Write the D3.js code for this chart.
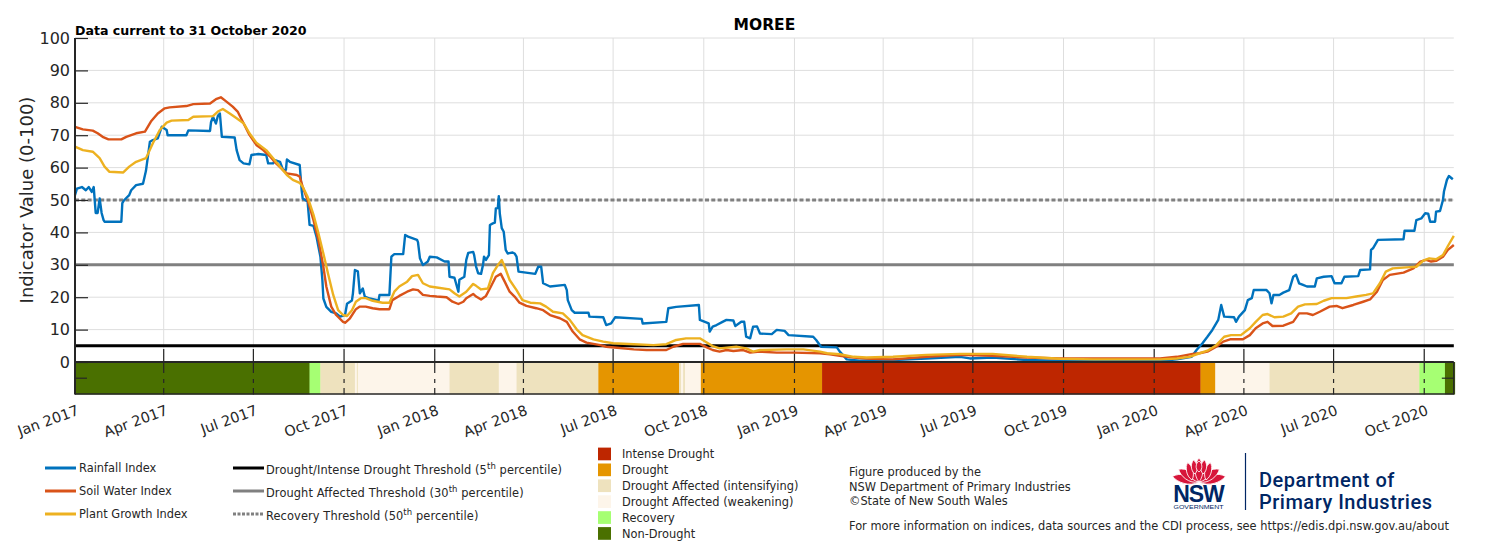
<!DOCTYPE html>
<html lang="en">
<head>
<meta charset="utf-8">
<title>Moree | Combined Drought Indicator</title>
<script src="https://cdn.jsdelivr.net/npm/d3@7"></script>
<style>
  body { margin: 0; background: #fff; }
  svg { display: block; font-family: "DejaVu Sans", sans-serif; }
  .tick text { fill: #262626; }
</style>
</head>
<body>
<div id="chart"></div>
<script>
// values (index 0-100)
const rainfall = [["2017-01-01",51.5],["2017-01-03",53.5],["2017-01-08",54],["2017-01-12",53],["2017-01-15",54],["2017-01-18",52.5],["2017-01-20",54],["2017-01-22",46],["2017-01-24",46],["2017-01-26",50.5],["2017-01-28",46],["2017-01-30",43.8],["2017-01-31",43.3],["2017-02-17",43.3],["2017-02-18",49],["2017-02-20",50],["2017-02-25",51.5],["2017-02-27",53],["2017-03-04",54.6],["2017-03-11",55],["2017-03-14",59],["2017-03-18",68],["2017-03-21",68.5],["2017-03-26",69],["2017-03-30",72.6],["2017-04-04",71.6],["2017-04-05",70],["2017-04-24",70],["2017-04-26",71.5],["2017-05-18",71.3],["2017-05-19",74],["2017-05-21",75.7],["2017-05-24",73.6],["2017-05-26",76],["2017-05-28",76.7],["2017-05-30",69.5],["2017-06-12",69.3],["2017-06-14",65.4],["2017-06-17",62.3],["2017-06-21",61.3],["2017-06-27",61],["2017-06-29",63.9],["2017-07-06",64.2],["2017-07-14",63.9],["2017-07-16",61.3],["2017-07-21",61.3],["2017-07-23",62.3],["2017-07-28",61.8],["2017-07-31",59.3],["2017-08-03",59.3],["2017-08-04",62.5],["2017-08-07",61.8],["2017-08-17",60.8],["2017-08-19",53],["2017-08-20",50.5],["2017-08-25",49.5],["2017-08-27",42.3],["2017-08-31",42],["2017-09-03",38.7],["2017-09-05",35.6],["2017-09-07",32.5],["2017-09-09",25.3],["2017-09-10",19.6],["2017-09-13",17],["2017-09-18",15.5],["2017-09-23",15],["2017-09-27",14],["2017-10-02",14.5],["2017-10-04",18],["2017-10-09",19],["2017-10-10",21.2],["2017-10-12",28.4],["2017-10-15",28],["2017-10-17",21.2],["2017-10-20",22.7],["2017-10-22",20.2],["2017-10-27",19.6],["2017-11-05",19],["2017-11-06",20.7],["2017-11-16",20.7],["2017-11-18",32.5],["2017-11-21",33.3],["2017-11-30",33.3],["2017-12-02",39.2],["2017-12-05",38.7],["2017-12-14",37.7],["2017-12-15",37],["2017-12-17",32],["2017-12-20",29.9],["2017-12-25",31],["2017-12-27",32.5],["2018-01-03",32.3],["2018-01-11",31],["2018-01-15",31],["2018-01-16",26.3],["2018-01-21",26],["2018-01-25",21.7],["2018-01-26",25.4],["2018-01-31",26.3],["2018-02-02",31.5],["2018-02-04",33.7],["2018-02-09",34],["2018-02-10",33],["2018-02-12",29.4],["2018-02-14",27.4],["2018-02-17",27.2],["2018-02-19",30],["2018-02-20",32.5],["2018-02-22",31.5],["2018-02-25",33],["2018-02-26",42.3],["2018-03-01",42.8],["2018-03-03",43],["2018-03-04",47.4],["2018-03-06",47.5],["2018-03-07",51.2],["2018-03-08",45.9],["2018-03-10",41.3],["2018-03-12",40.2],["2018-03-14",34.6],["2018-03-16",33.5],["2018-03-21",33.8],["2018-03-23",33.5],["2018-03-25",32.5],["2018-03-27",27.9],["2018-04-13",27.2],["2018-04-16",29.4],["2018-04-19",29.4],["2018-04-21",24.3],["2018-04-28",23.3],["2018-05-13",23.8],["2018-05-15",22.2],["2018-05-16",19.1],["2018-05-20",16],["2018-05-23",15.2],["2018-06-06",15.2],["2018-06-07",14],["2018-06-21",13.8],["2018-06-24",11.4],["2018-06-29",11.9],["2018-07-03",13.8],["2018-07-30",13.3],["2018-07-31",11.9],["2018-08-24",12.4],["2018-08-26",16.6],["2018-09-03",17],["2018-09-26",17.6],["2018-09-27",13],["2018-10-06",11.9],["2018-10-07",9.4],["2018-10-10",10.9],["2018-10-14",11.4],["2018-10-20",12.4],["2018-10-24",13],["2018-10-31",12.8],["2018-11-02",11.1],["2018-11-08",12.4],["2018-11-11",12.4],["2018-11-13",7.8],["2018-11-17",7.3],["2018-11-20",10.9],["2018-11-24",11],["2018-11-27",8.8],["2018-12-09",8.6],["2018-12-14",9.9],["2018-12-22",9.6],["2018-12-26",8.3],["2019-01-20",7.8],["2019-01-23",6.8],["2019-01-28",4.7],["2019-02-13",4.5],["2019-02-16",3.2],["2019-02-19",2.2],["2019-02-23",0.8],["2019-03-08",0.4],["2019-04-11",0.6],["2019-05-15",1.1],["2019-06-18",1.6],["2019-06-28",1.1],["2019-07-21",1.4],["2019-08-25",0.6],["2019-09-27",0.3],["2019-12-04",0.3],["2020-01-07",0.3],["2020-01-24",0.8],["2020-02-08",1.6],["2020-02-13",3.7],["2020-02-19",5.8],["2020-02-24",7.8],["2020-02-29",9.9],["2020-03-06",13],["2020-03-09",17.6],["2020-03-12",14],["2020-03-22",13.8],["2020-03-24",12.4],["2020-03-27",14],["2020-04-02",16],["2020-04-05",19.1],["2020-04-09",19.7],["2020-04-11",22.2],["2020-04-24",22.2],["2020-04-27",21.2],["2020-04-29",18.1],["2020-05-01",20.7],["2020-05-07",20.7],["2020-05-11",21.4],["2020-05-17",22.2],["2020-05-21",26.3],["2020-05-24",26.9],["2020-05-27",24.3],["2020-05-31",23.8],["2020-06-04",23.3],["2020-06-12",23.3],["2020-06-14",25.8],["2020-06-21",26.3],["2020-06-29",26.5],["2020-07-02",24.3],["2020-07-09",24.3],["2020-07-12",26.3],["2020-07-26",26.5],["2020-07-28",28.4],["2020-08-07",28.6],["2020-08-08",34.6],["2020-08-10",35.1],["2020-08-15",37.7],["2020-09-10",37.9],["2020-09-11",40.5],["2020-09-21",40.5],["2020-09-23",43.8],["2020-09-28",44.3],["2020-10-02",45.9],["2020-10-05",45.8],["2020-10-07",43.3],["2020-10-12",43.3],["2020-10-13",46.4],["2020-10-17",46.6],["2020-10-20",50],["2020-10-21",52.6],["2020-10-24",56.2],["2020-10-26",57.4],["2020-10-30",56.4]];

const soilWater = [["2017-01-01",72.6],["2017-01-09",71.8],["2017-01-19",71.4],["2017-01-24",70.6],["2017-01-29",69.5],["2017-02-04",68.7],["2017-02-17",68.7],["2017-02-22",69.5],["2017-03-04",70.6],["2017-03-13",71.1],["2017-03-19",74.2],["2017-03-26",76.7],["2017-04-02",78.3],["2017-04-07",78.6],["2017-04-24",79],["2017-05-01",79.6],["2017-05-18",79.8],["2017-05-24",81.1],["2017-05-29",81.7],["2017-06-04",80.3],["2017-06-10",78.8],["2017-06-15",77.3],["2017-06-21",73.7],["2017-06-27",70.1],["2017-07-04",67],["2017-07-11",65.4],["2017-07-18",63.4],["2017-07-24",61.3],["2017-07-31",59.3],["2017-08-04",58.2],["2017-08-14",57.7],["2017-08-17",57.2],["2017-08-20",54.1],["2017-08-25",50],["2017-08-31",43.8],["2017-09-05",37.7],["2017-09-10",29.4],["2017-09-13",23.3],["2017-09-18",17.1],["2017-09-23",14.5],["2017-09-30",12.4],["2017-10-02",12.1],["2017-10-07",13.5],["2017-10-13",16.3],["2017-10-17",17.1],["2017-10-23",17.1],["2017-10-30",16.6],["2017-11-06",16.3],["2017-11-16",16.3],["2017-11-19",19.1],["2017-11-26",20.4],["2017-12-04",21.7],["2017-12-10",22.4],["2017-12-15",22.2],["2017-12-20",20.7],["2017-12-27",20.4],["2018-01-03",20.2],["2018-01-13",20],["2018-01-19",18.6],["2018-01-25",17.9],["2018-01-30",18.6],["2018-02-02",19.7],["2018-02-09",21],["2018-02-12",20.2],["2018-02-17",19.3],["2018-02-22",20.4],["2018-02-27",23.3],["2018-03-04",26.3],["2018-03-09",27.2],["2018-03-13",24.8],["2018-03-18",21.7],["2018-03-23",20.2],["2018-03-28",18.3],["2018-04-04",17.3],["2018-04-14",16.6],["2018-04-21",16],["2018-04-28",14.5],["2018-05-08",13.5],["2018-05-15",12.4],["2018-05-21",9.4],["2018-05-28",7],["2018-06-04",6],["2018-06-18",5.2],["2018-06-24",4.7],["2018-07-05",4.4],["2018-07-22",3.9],["2018-08-04",3.7],["2018-08-24",3.7],["2018-08-31",4.7],["2018-09-10",5.6],["2018-09-27",5.6],["2018-10-04",4.5],["2018-10-10",3.7],["2018-10-17",3.2],["2018-10-24",3.7],["2018-10-31",3.4],["2018-11-10",3.7],["2018-11-17",2.9],["2018-11-27",3.2],["2018-12-14",2.9],["2018-12-31",2.9],["2019-01-27",2.7],["2019-02-06",2.4],["2019-02-16",1.9],["2019-03-02",1.4],["2019-03-15",1.1],["2019-03-29",0.9],["2019-04-11",0.8],["2019-05-15",1.6],["2019-06-18",2.2],["2019-07-21",1.9],["2019-08-25",1.4],["2019-09-27",1.1],["2019-12-04",1.1],["2020-01-07",1.1],["2020-01-24",1.6],["2020-02-09",2.5],["2020-02-16",2.7],["2020-02-24",3.2],["2020-03-04",4.7],["2020-03-11",6.3],["2020-03-18",7],["2020-03-31",7],["2020-04-07",8.3],["2020-04-13",10.4],["2020-04-20",11.9],["2020-04-25",12.4],["2020-04-30",11.1],["2020-05-11",11.2],["2020-05-21",12.4],["2020-05-27",15],["2020-06-04",15],["2020-06-10",14.5],["2020-06-17",15.5],["2020-06-27",17.1],["2020-07-04",17.3],["2020-07-10",16.6],["2020-07-21",17.6],["2020-07-31",18.6],["2020-08-07",19.3],["2020-08-14",21.7],["2020-08-20",25.3],["2020-08-27",26.9],["2020-09-10",27.6],["2020-09-20",28.9],["2020-09-27",31],["2020-10-03",31.5],["2020-10-08",31],["2020-10-13",31.2],["2020-10-20",32.5],["2020-10-25",34.6],["2020-10-31",36.1]];

const plantGrowth = [["2017-01-01",66.5],["2017-01-09",65.4],["2017-01-19",64.9],["2017-01-26",62.9],["2017-01-31",60.3],["2017-02-05",58.7],["2017-02-19",58.5],["2017-02-25",60.3],["2017-03-04",61.8],["2017-03-14",62.9],["2017-03-21",67.5],["2017-03-28",71.6],["2017-04-04",73.9],["2017-04-09",74.5],["2017-04-26",74.7],["2017-05-01",75.7],["2017-05-21",75.9],["2017-05-26",77.3],["2017-05-31",78.1],["2017-06-07",76.7],["2017-06-14",75.2],["2017-06-21",73.7],["2017-06-27",70.6],["2017-07-04",67.7],["2017-07-14",65.4],["2017-07-21",62.9],["2017-07-28",60.3],["2017-08-04",57.7],["2017-08-10",56.2],["2017-08-17",55.3],["2017-08-20",54.1],["2017-08-25",51],["2017-08-31",45.4],["2017-09-05",39.7],["2017-09-10",33.5],["2017-09-15",26.9],["2017-09-20",20.7],["2017-09-25",16],["2017-09-30",14.5],["2017-10-04",14.2],["2017-10-09",16],["2017-10-13",18.6],["2017-10-18",19.7],["2017-10-23",19.7],["2017-10-30",18.9],["2017-11-09",18.3],["2017-11-16",18.3],["2017-11-21",21.7],["2017-11-26",23.3],["2017-12-04",24.8],["2017-12-09",26.5],["2017-12-15",26.9],["2017-12-20",24.3],["2017-12-27",23.3],["2018-01-03",23],["2018-01-16",22.4],["2018-01-21",21.2],["2018-01-26",20.2],["2018-02-02",21.7],["2018-02-09",24.1],["2018-02-12",23.5],["2018-02-17",22.4],["2018-02-24",22.7],["2018-03-01",27.4],["2018-03-06",29.9],["2018-03-10",31.5],["2018-03-13",29.4],["2018-03-18",25.3],["2018-03-25",22.2],["2018-03-31",19.1],["2018-04-08",18.3],["2018-04-18",18.1],["2018-04-24",17.1],["2018-05-01",15.5],["2018-05-11",15],["2018-05-18",13],["2018-05-25",10.1],["2018-05-31",8.3],["2018-06-11",7],["2018-06-21",6.3],["2018-07-01",5.8],["2018-07-22",5.5],["2018-08-11",5.2],["2018-08-24",5.5],["2018-09-03",6.8],["2018-09-13",7.3],["2018-09-27",7.3],["2018-10-04",6],["2018-10-10",4.9],["2018-10-17",4.2],["2018-11-03",4.7],["2018-11-13",4.2],["2018-11-20",3.2],["2018-11-27",3.7],["2018-12-24",3.9],["2019-01-10",3.9],["2019-01-27",3.2],["2019-02-03",2.7],["2019-02-16",2.4],["2019-03-02",1.6],["2019-03-15",1.4],["2019-04-11",1.6],["2019-05-15",2.2],["2019-06-18",2.5],["2019-07-21",2.5],["2019-08-25",1.6],["2019-09-27",1.0],["2019-10-31",0.8],["2020-01-07",0.8],["2020-01-24",1.1],["2020-02-06",1.6],["2020-02-16",2.7],["2020-02-24",3.5],["2020-03-04",5.2],["2020-03-12",7.8],["2020-03-19",8.3],["2020-03-29",8.3],["2020-04-07",10.4],["2020-04-13",12.4],["2020-04-20",14.5],["2020-04-25",14.8],["2020-05-02",13.8],["2020-05-11",14],["2020-05-19",15],["2020-05-26",17.1],["2020-06-02",17.8],["2020-06-14",17.9],["2020-06-21",18.9],["2020-06-29",19.7],["2020-07-14",19.7],["2020-07-24",20.2],["2020-08-03",20.7],["2020-08-10",21.2],["2020-08-17",24.3],["2020-08-23",27.9],["2020-08-30",28.9],["2020-09-13",29.2],["2020-09-23",29.4],["2020-09-30",31.3],["2020-10-06",32],["2020-10-13",31.7],["2020-10-20",33],["2020-10-25",35.8],["2020-10-31",38.9]];

// drought phase bands: [start, end, category]
const droughtPhases = [
  ["2017-01-01","2017-08-27","Non-Drought"],
  ["2017-08-27","2017-09-07","Recovery"],
  ["2017-09-07","2017-10-12","Drought Affected (intensifying)"],
  ["2017-10-12","2017-10-14","Drought Affected (weakening)"],
  ["2017-10-14","2017-10-15","Drought Affected (intensifying)"],
  ["2017-10-15","2018-01-16","Drought Affected (weakening)"],
  ["2018-01-16","2018-03-07","Drought Affected (intensifying)"],
  ["2018-03-07","2018-03-25","Drought Affected (weakening)"],
  ["2018-03-25","2018-06-16","Drought Affected (intensifying)"],
  ["2018-06-16","2018-09-06","Drought"],
  ["2018-09-06","2018-09-08","Drought Affected (intensifying)"],
  ["2018-09-08","2018-09-10","Drought Affected (weakening)"],
  ["2018-09-10","2018-09-12","Drought Affected (intensifying)"],
  ["2018-09-12","2018-09-28","Drought Affected (weakening)"],
  ["2018-09-28","2019-01-29","Drought"],
  ["2019-01-29","2020-02-17","Intense Drought"],
  ["2020-02-17","2020-03-03","Drought"],
  ["2020-03-03","2020-04-27","Drought Affected (weakening)"],
  ["2020-04-27","2020-09-26","Drought Affected (intensifying)"],
  ["2020-09-26","2020-10-22","Recovery"],
  ["2020-10-22","2020-11-01","Non-Drought"]
];

const categories = ["Intense Drought", "Drought", "Drought Affected (intensifying)",
  "Drought Affected (weakening)", "Recovery", "Non-Drought"];
const categoryColors = ["#BE2600", "#E59500", "#EEE2BE", "#FDF5EA", "#A6FF73", "#4A7000"];

const seriesNames = ["Rainfall Index", "Soil Water Index", "Plant Growth Index"];
const seriesColors = ["#0072BD", "#D95319", "#EDB120"];

const thresholdValues = [5, 30, 50];
const thresholdNames = [["Drought/Intense Drought Threshold (5", "th", " percentile)"],
  ["Drought Affected Threshold (30", "th", " percentile)"],
  ["Recovery Threshold (50", "th", " percentile)"]];

const yTicks = d3.range(0, 101, 10);
const dateStart = "2017-01-01", dateEnd = "2020-11-01";

const parse = d3.timeParse("%Y-%m-%d");
const W = 1500, H = 541;
const plotLeft = 75, plotRight = 1454.8, plotTop = 38, plotBottom = 394.4;

const svg = d3.select("#chart").append("svg")
  .attr("width", W).attr("height", H);

const x = d3.scaleTime()
  .domain([parse(dateStart), parse(dateEnd)])
  .range([plotLeft, plotRight]);
const y = d3.scaleLinear()
  .domain([-10, 100])
  .range([plotBottom, plotTop]);

const quarters = d3.timeMonth.every(3).range(parse(dateStart), parse(dateEnd));
const endX = x(parse("2020-10-31"));

// grid
const grid = svg.append("g").attr("stroke", "#dedede").attr("stroke-width", 1);
grid.selectAll("line.h").data(yTicks.slice(1)).join("line")
  .attr("x1", plotLeft).attr("x2", endX)
  .attr("y1", d => y(d)).attr("y2", d => y(d));
grid.selectAll("line.v").data(quarters.slice(1)).join("line")
  .attr("x1", d => x(d)).attr("x2", d => x(d))
  .attr("y1", plotTop).attr("y2", y(0));

// drought phase bar
svg.append("g").selectAll("rect").data(droughtPhases).join("rect")
  .attr("x", d => x(parse(d[0])))
  .attr("width", d => x(parse(d[1])) - x(parse(d[0])) + 0.3)
  .attr("y", y(0)).attr("height", y(-10) - y(0))
  .attr("fill", d => categoryColors[categories.indexOf(d[2])]);

// dashed quarter lines in the bar
svg.append("g").selectAll("line").data(quarters.slice(1)).join("line")
  .attr("x1", d => x(d)).attr("x2", d => x(d))
  .attr("y1", y(0)).attr("y2", y(-10))
  .attr("stroke", "#262626").attr("stroke-width", 1.2)
  .attr("stroke-dasharray", "11,6,4,5,7");

// x ticks on upper axes (pointing up)
svg.append("g").selectAll("line").data(quarters.slice(1)).join("line")
  .attr("x1", d => x(d)).attr("x2", d => x(d))
  .attr("y1", y(0)).attr("y2", y(0) - 13)
  .attr("stroke", "#262626").attr("stroke-width", 1.2);

// thresholds
const thrStyle = [
  {stroke: "#000", dash: null},
  {stroke: "#808080", dash: null},
  {stroke: "#808080", dash: "4,2.3"}
];
svg.append("g").selectAll("line").data(thresholdValues).join("line")
  .attr("x1", plotLeft).attr("x2", endX)
  .attr("y1", d => y(d)).attr("y2", d => y(d))
  .attr("stroke", (d, i) => thrStyle[i].stroke)
  .attr("stroke-width", 3)
  .attr("stroke-dasharray", (d, i) => thrStyle[i].dash);

// series
const line = d3.line()
  .x(d => x(parse(d[0])))
  .y(d => y(d[1]));
[rainfall, soilWater, plantGrowth].forEach((s, i) => {
  svg.append("path").datum(s)
    .attr("d", line)
    .attr("fill", "none")
    .attr("stroke", seriesColors[i])
    .attr("stroke-width", 2.4)
    .attr("stroke-linejoin", "round");
});

// axes frame
const frame = svg.append("g").attr("stroke", "#262626").attr("fill", "none");
frame.append("line").attr("x1", plotLeft).attr("x2", plotLeft)
  .attr("y1", plotTop).attr("y2", plotBottom).attr("stroke-width", 2);
frame.append("line").attr("x1", plotLeft).attr("x2", endX)
  .attr("y1", y(0)).attr("y2", y(0)).attr("stroke-width", 2);
frame.append("line").attr("x1", plotLeft).attr("x2", endX)
  .attr("y1", plotBottom - 0.5).attr("y2", plotBottom - 0.5).attr("stroke-width", 1.5);
frame.append("line").attr("x1", endX).attr("x2", endX)
  .attr("y1", y(0)).attr("y2", plotBottom).attr("stroke-width", 1.5);
frame.append("line").attr("x1", plotLeft).attr("x2", plotLeft + 12)
  .attr("y1", y(-5)).attr("y2", y(-5)).attr("stroke-width", 1.2);
frame.append("line").attr("x1", endX - 12).attr("x2", endX)
  .attr("y1", y(-5)).attr("y2", y(-5)).attr("stroke-width", 1.2);

// y axis
const yAxis = svg.append("g")
  .attr("transform", `translate(${plotLeft},0)`)
  .call(d3.axisLeft(y).tickValues(yTicks).tickSizeInner(-13).tickSizeOuter(0).tickPadding(5))
  .attr("font-family", "DejaVu Sans").attr("font-size", 16);
yAxis.select(".domain").remove();
yAxis.selectAll(".tick line").attr("stroke", "#262626").attr("stroke-width", 1.2);

svg.append("text")
  .attr("transform", `translate(33,${(plotTop + y(0)) / 2}) rotate(-90)`)
  .attr("text-anchor", "middle")
  .attr("font-size", 18).attr("fill", "#262626")
  .text("Indicator Value (0-100)");

// x axis labels
const fmt = d3.timeFormat("%b %Y");
svg.append("g").selectAll("text").data(quarters).join("text")
  .attr("transform", d => `translate(${x(d) + 5},${plotBottom + 20}) rotate(-20)`)
  .attr("text-anchor", "end")
  .attr("font-size", 14.5).attr("fill", "#262626")
  .text(d => fmt(d));

// titles
svg.append("text").attr("x", (plotLeft + endX) / 2).attr("y", 30)
  .attr("text-anchor", "middle").attr("font-weight", "bold")
  .attr("font-size", 15.5).attr("fill", "#000").text("MOREE");
svg.append("text").attr("x", plotLeft).attr("y", 35)
  .attr("font-weight", "bold").attr("font-size", 12.6).attr("fill", "#000")
  .text("Data current to 31 October 2020");

// legend: series
const legFont = 11.4;
const rowsY = [468, 491, 514];
const leg1 = svg.append("g");
seriesNames.forEach((n, i) => {
  leg1.append("line").attr("x1", 45).attr("x2", 76)
    .attr("y1", rowsY[i]).attr("y2", rowsY[i])
    .attr("stroke", seriesColors[i]).attr("stroke-width", 3);
  leg1.append("text").attr("x", 79).attr("y", rowsY[i] + 4)
    .attr("font-size", legFont).attr("fill", "#262626").text(n);
});

// legend: thresholds
thresholdNames.forEach((parts, i) => {
  leg1.append("line").attr("x1", 233).attr("x2", 264)
    .attr("y1", rowsY[i]).attr("y2", rowsY[i])
    .attr("stroke", thrStyle[i].stroke).attr("stroke-width", 3)
    .attr("stroke-dasharray", thrStyle[i].dash ? "3,1.5" : null);
  const t = leg1.append("text").attr("x", 266).attr("y", rowsY[i] + 6)
    .attr("font-size", legFont).attr("fill", "#262626")
    .attr("letter-spacing", 0.1);
  t.append("tspan").text(parts[0]);
  t.append("tspan").attr("dy", -5).attr("font-size", 8.5).text(parts[1]);
  t.append("tspan").attr("dy", 5).text(parts[2]);
});

// legend: drought categories
categories.forEach((c, i) => {
  const cy = 447.6 + i * 15.9;
  leg1.append("rect").attr("x", 598).attr("y", cy).attr("width", 13).attr("height", 12.7)
    .attr("fill", categoryColors[i]);
  leg1.append("text").attr("x", 622).attr("y", cy + 10.5)
    .attr("font-size", legFont).attr("fill", "#262626").text(c);
});

// notes
const notes = ["Figure produced by the", "NSW Department of Primary Industries", "\u00A9State of New South Wales"];
notes.forEach((n, i) => {
  leg1.append("text").attr("x", 849).attr("y", 476 + i * 14.6)
    .attr("font-size", legFont).attr("fill", "#262626").text(n);
});
leg1.append("text").attr("x", 849).attr("y", 530)
  .attr("font-size", legFont).attr("fill", "#262626")
  .text("For more information on indices, data sources and the CDI process, see https://edis.dpi.nsw.gov.au/about");

// NSW logo
const navy = "#002664", red = "#D7153A";
const logo = svg.append("g").attr("transform", "translate(1199,482)");
const petal = (L, Wd) => `M0,0 C${Wd},${-L * 0.3} ${Wd * 0.7},${-L * 0.8} 0,${-L} C${-Wd * 0.7},${-L * 0.8} ${-Wd},${-L * 0.3} 0,0Z`;
[[-78, 27, 7], [78, 27, 7], [-58, 24, 7], [58, 24, 7], [-36, 22, 6.5], [36, 22, 6.5]].forEach(p => {
  logo.append("path").attr("d", petal(p[1], p[2]))
    .attr("transform", `rotate(${p[0]})`)
    .attr("fill", red).attr("stroke", "#fff").attr("stroke-width", 0.8);
});
[[0, -6, 0, 30, 6], [-7, -8, -14, 24, 5], [7, -8, 14, 24, 5], [-4, -14, -6, 20, 4.5], [4, -14, 6, 20, 4.5], [0, -16, 0, 17, 4.5]].forEach(p => {
  logo.append("path").attr("d", petal(p[3] - 6, p[4]))
    .attr("transform", `translate(${p[0]},${p[1] + 6}) rotate(${p[2]})`)
    .attr("fill", red).attr("stroke", "#fff").attr("stroke-width", 0.8);
});
svg.append("text").attr("x", 1198.5).attr("y", 502)
  .attr("text-anchor", "middle").attr("font-family", "Liberation Sans")
  .attr("font-weight", "bold").attr("font-size", 23).attr("letter-spacing", -1)
  .attr("fill", navy).text("NSW");
svg.append("text").attr("x", 1198.5).attr("y", 509)
  .attr("text-anchor", "middle").attr("font-family", "Liberation Sans")
  .attr("font-size", 5).attr("fill", navy)
  .attr("textLength", 50).attr("lengthAdjust", "spacingAndGlyphs").text("GOVERNMENT");
svg.append("line").attr("x1", 1245.5).attr("x2", 1245.5).attr("y1", 453).attr("y2", 510)
  .attr("stroke", navy).attr("stroke-width", 1.2);
svg.append("text").attr("x", 1259).attr("y", 487)
  .attr("font-family", "Roboto").attr("font-weight", 500).attr("font-size", 20)
  .attr("letter-spacing", 0.5).attr("fill", navy).text("Department of");
svg.append("text").attr("x", 1259).attr("y", 509)
  .attr("font-family", "Roboto").attr("font-weight", 500).attr("font-size", 20)
  .attr("letter-spacing", 0.5).attr("fill", navy).text("Primary Industries");
</script>
</body>
</html>
